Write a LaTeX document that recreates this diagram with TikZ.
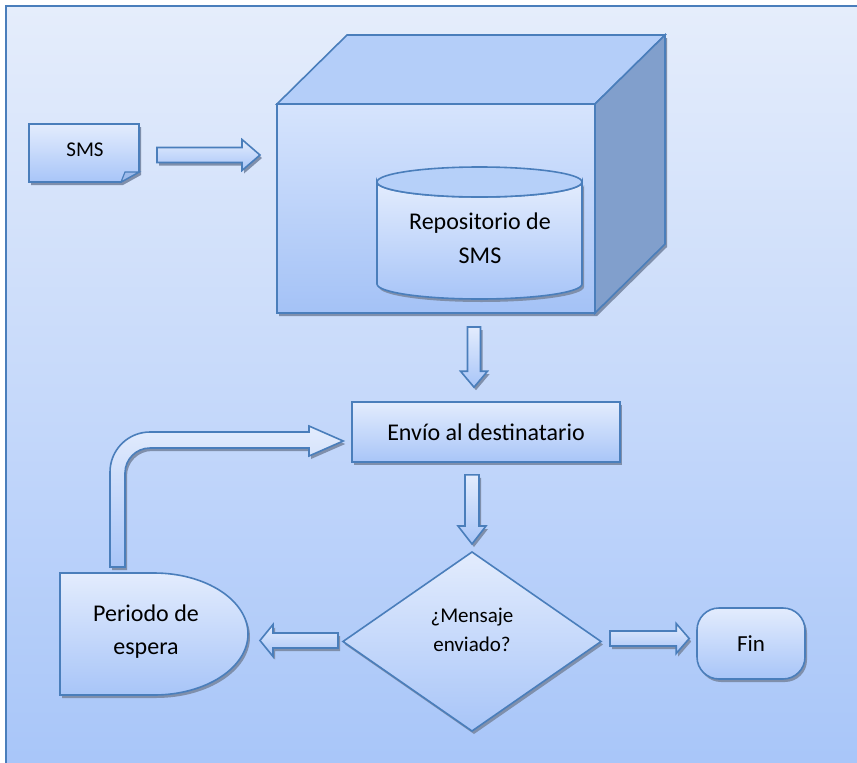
\documentclass[tikz,border=0pt]{standalone}
\usepackage{fontspec}
\setmainfont{Carlito}
\usetikzlibrary{calc,shadows,shapes.geometric}

\definecolor{lc}{HTML}{4A7EBB}
\definecolor{ftop}{HTML}{E3ECFD}
\definecolor{fbot}{HTML}{A8C5F8}
\definecolor{bgtop}{HTML}{E5EDFB}
\definecolor{bgbot}{HTML}{A7C5F9}
\definecolor{shc}{HTML}{7F8FAB}
\definecolor{cubetop}{HTML}{B4CEF9}
\definecolor{cubeside}{HTML}{819FCC}
\definecolor{fronttop}{HTML}{D6E4FD}
\definecolor{frontbot}{HTML}{A4C2F6}
\definecolor{capfill}{HTML}{B6D0F9}
\definecolor{foldc}{HTML}{9EBBEB}

% outlined block arrow from #1 to #2: half shaft width #3, head length #4, half head width #5
\newcommand\fatarrow[5]{%
  \path[shp] ($(#1)!#3!90:(#2)$)
    -- ($(#2)!#4!(#1)!#3!90:(#2)$)
    -- ($(#2)!#4!(#1)!#5!90:(#2)$)
    -- (#2)
    -- ($(#2)!#4!(#1)!#5!-90:(#2)$)
    -- ($(#2)!#4!(#1)!#3!-90:(#2)$)
    -- ($(#1)!#3!-90:(#2)$) -- cycle;}

\begin{document}
\begin{tikzpicture}[x=1pt,y=-1pt,
  outl/.style={draw=lc, line width=1.6pt, line join=miter},
  shd/.style={drop shadow={shadow xshift=2pt, shadow yshift=-3pt, fill=shc, opacity=1}},
  shp/.style={outl, shd, top color=ftop, bottom color=fbot},
  geom/.style={inner sep=0pt, outer sep=0pt},
  lbl/.style={font=\fontsize{24}{34}\selectfont, align=center, text=black, inner sep=0pt}]

\useasboundingbox (0,0) rectangle (857,763);

% page frame
\begin{scope}
  \clip (0,0) rectangle (857,763);
  \path[top color=bgtop, bottom color=bgbot] (6,6) rectangle (880,780);
  \draw[lc, line width=1.6pt] (6,790) -- (6,6) -- (880,6);
\end{scope}

% geometry holders
\node[geom, minimum width=110pt, minimum height=58pt] (sms) at (84,153) {};
\node[geom, minimum width=318pt, minimum height=209pt] (cube) at (436,208.5) {};
\node[geom, minimum width=188pt, minimum height=122pt] (periodo) at (154,634) {};

% SMS note with folded corner
\path[shp] (sms.north west) -- (sms.north east) -- ([yshift=10pt]sms.south east)
  -- ([xshift=-18pt]sms.south east) -- (sms.south west) -- cycle;
\path[outl, fill=foldc, line width=1.2pt] ([xshift=-18pt]sms.south east)
  -- ([xshift=-14pt,yshift=10pt]sms.south east) -- ([yshift=10pt]sms.south east) -- cycle;

% server box
\path[shd] (cube.south west) -- (cube.north west) -- ++(70,-69) -- ++(318,0)
  -- ++(0,209) -- (cube.south east) -- cycle;
\path[outl, top color=fronttop, bottom color=frontbot] (cube.north west) rectangle (cube.south east);
\path[outl, fill=cubetop] (cube.north west) -- ++(70,-69) -- ++(318,0) -- (cube.north east) -- cycle;
\path[outl, fill=cubeside] (cube.north east) -- ++(70,-69) -- ++(0,209) -- (cube.south east) -- cycle;

% repository cylinder
\path[shp] (377,182) -- (377,284) arc[start angle=180, end angle=360, x radius=102.5pt, y radius=15pt]
  -- (582,182) arc[start angle=0, end angle=-180, x radius=102.5pt, y radius=15pt] -- cycle;
\path[outl, fill=capfill] (479.5,182) ellipse [x radius=102.5pt, y radius=15pt];

% delay shape
\path[shp] (periodo.south west) -- (periodo.north west) -- (periodo.north)
  arc[start angle=90, end angle=-90, x radius=94pt, y radius=61pt] -- cycle;

% process, decision and terminator
\node[shp, lbl, minimum width=268pt, minimum height=60pt] (envio) at (486,432) {Envío al destinatario};
\node[shp, geom, diamond, minimum width=258pt, minimum height=179pt] (decision) at (472,641.5) {};
\node[shp, lbl, font=\fontsize{23}{28}\selectfont, rounded corners=22pt,
      minimum width=108pt, minimum height=71pt] (fin) at (751,643.5) {Fin};

% labels
\node[lbl, font=\fontsize{21}{25}\selectfont] (smstext) at (85,150) {SMS};
\node[lbl] (repo) at (480,238) {Repositorio de\\SMS};
\node[lbl, font=\fontsize{24}{33}\selectfont] (periodotext) at (146,632) {Periodo de\\espera};
\node[lbl, font=\fontsize{21}{29}\selectfont] (decisiontext) at (472,630) {¿Mensaje\\enviado?};

% arrow end points
\coordinate (a1s) at ([xshift=18pt,yshift=-2pt]sms.east);
\coordinate[xshift=-17pt] (a1e) at (a1s -| cube.west);
\coordinate[xshift=-12pt, yshift=-14pt] (a2s) at (envio.north |- cube.south);
\coordinate[xshift=-12pt, yshift=14pt] (a2e) at (envio.north);
\coordinate[yshift=-12pt] (a3s) at (envio.south -| decision.north);
\coordinate[yshift=8pt] (a3e) at (decision.north);
\coordinate[xshift=-5pt, yshift=1pt] (a4s) at (decision.west);
\coordinate[xshift=12pt] (a4e) at (periodo.east |- a4s);
\coordinate[xshift=9pt, yshift=3pt] (a5s) at (decision.east);
\coordinate[xshift=-7pt] (a5e) at (a5s -| fin.west);
\coordinate (loopfoot) at (117.5,567);
\coordinate[xshift=-8pt, yshift=-9pt] (looptip) at (envio.west);

% block arrows
\fatarrow{a1s}{a1e}{7.5pt}{18pt}{15.5pt}
\fatarrow{a2s}{a2e}{6.5pt}{16pt}{13.5pt}
\fatarrow{a3s}{a3e}{7pt}{18pt}{14pt}
\fatarrow{a4s}{a4e}{7.5pt}{13pt}{16pt}
\fatarrow{a5s}{a5e}{7.5pt}{13pt}{15pt}

% bent return arrow
\path[shp] ([xshift=-7.5pt]loopfoot) -- (110,472)
  arc[start angle=180, end angle=90, radius=40pt] -- (309,432) -- (309,426)
  -- (looptip) -- (309,456) -- (309,448) -- (150,448)
  arc[start angle=90, end angle=180, radius=25pt] -- ([xshift=7.5pt]loopfoot) -- cycle;

\end{tikzpicture}
\end{document}
